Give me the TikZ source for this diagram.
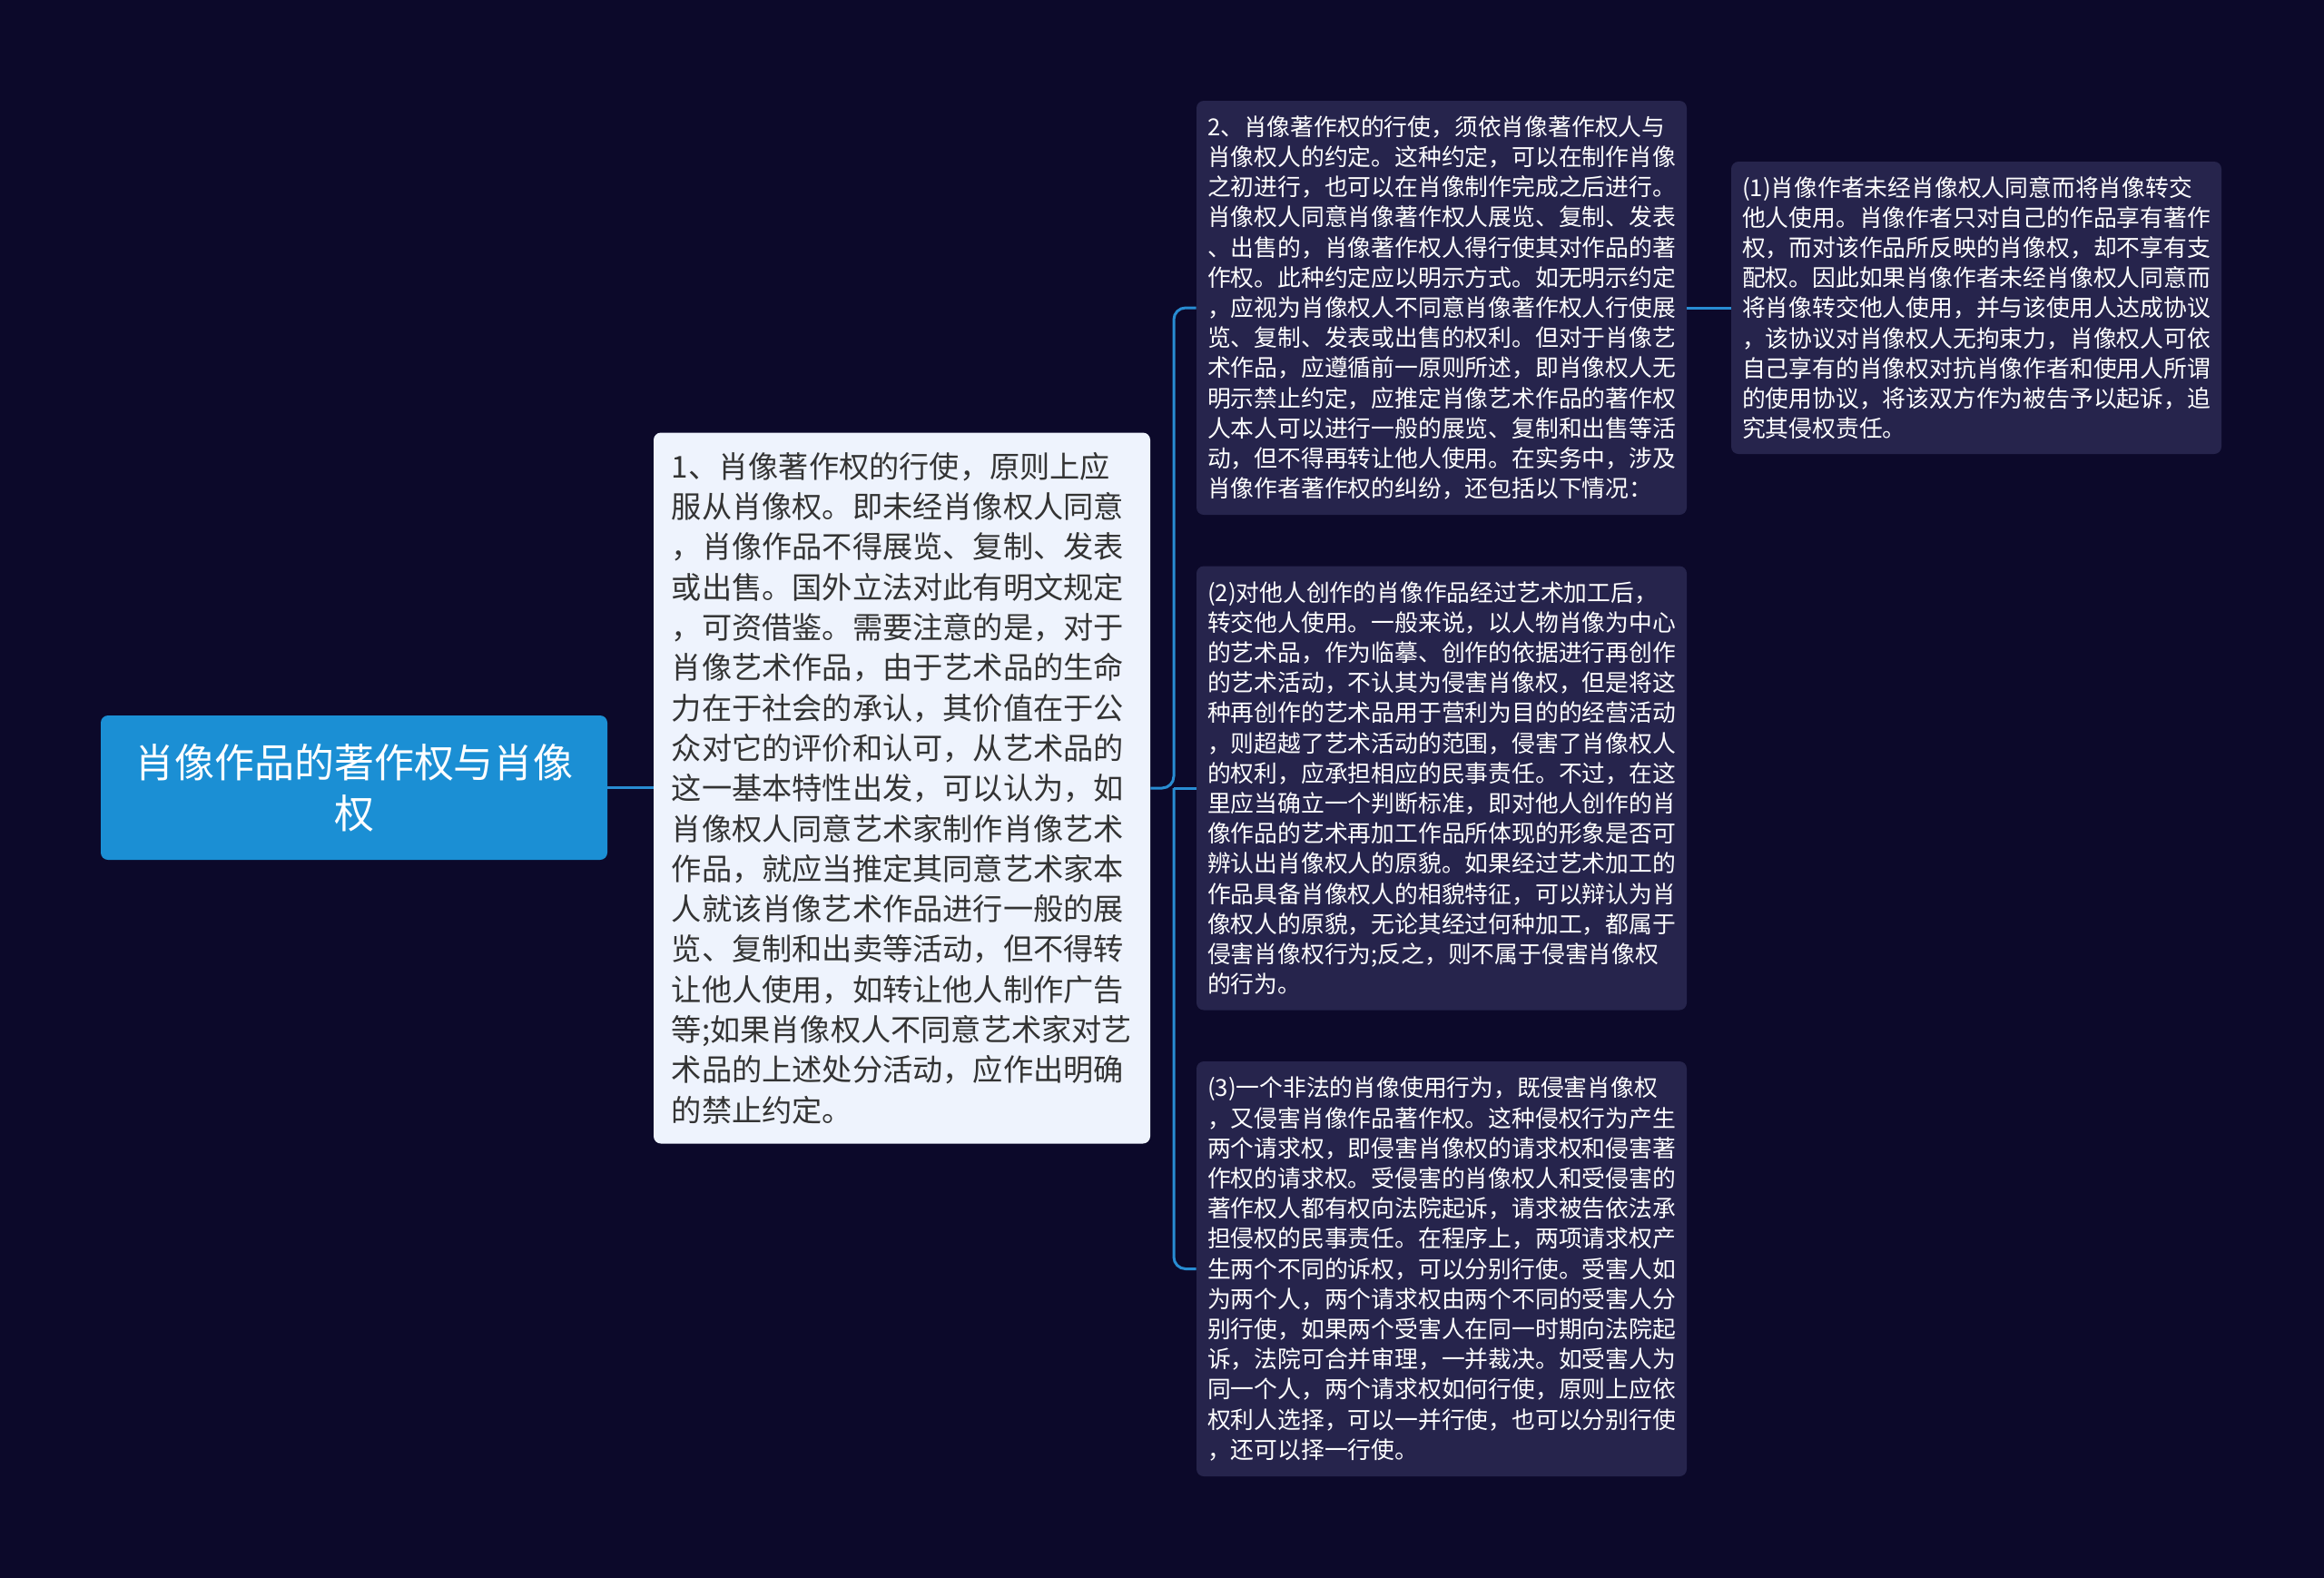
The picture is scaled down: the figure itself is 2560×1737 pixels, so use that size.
\documentclass[tikz,border=0pt]{standalone}
\usepackage{fontspec}
\setmainfont{Noto Sans CJK SC}
\definecolor{bgc}{RGB}{12,9,42}
\definecolor{rootc}{RGB}{27,143,212}
\definecolor{lightc}{RGB}{238,243,253}
\definecolor{darkc}{RGB}{38,36,76}
\definecolor{linec}{RGB}{40,140,210}
\definecolor{txtc}{RGB}{51,51,51}
\tikzset{
  rootbox/.style={fill=rootc, rounded corners=4pt, text=white, align=center, minimum width=279pt, minimum height=79.5pt, inner sep=0pt, font=\fontsize{22}{27.8}\selectfont},
  mainbox/.style={fill=lightc, rounded corners=4pt, text=txtc, align=left, minimum width=273.5pt, minimum height=391.5pt, inner sep=0pt, font=\fontsize{16.6}{22.15}\selectfont},
  subbox/.style={fill=darkc, rounded corners=4pt, text=white, align=left, minimum width=270pt, inner sep=0pt, font=\fontsize{12.9}{16.6}\selectfont},
  conn/.style={draw=linec, line width=1.5pt, rounded corners=6.5pt}
}
\begin{document}
\begin{tikzpicture}[x=0.5pt,y=-0.5pt]
\useasboundingbox (0,0) rectangle (2560,1737);
\fill[bgc] (-20,-20) rectangle (2580,1757);

\node[rootbox] (root) at (390,867.5) {肖像作品的著作权与肖像\\权};

\node[mainbox] (n1) at (993.5,868) {1、肖像著作权的行使，原则上应\\
服从肖像权。即未经肖像权人同意\\
，肖像作品不得展览、复制、发表\\
或出售。国外立法对此有明文规定\\
，可资借鉴。需要注意的是，对于\\
肖像艺术作品，由于艺术品的生命\\
力在于社会的承认，其价值在于公\\
众对它的评价和认可，从艺术品的\\
这一基本特性出发，可以认为，如\\
肖像权人同意艺术家制作肖像艺术\\
作品，就应当推定其同意艺术家本\\
人就该肖像艺术作品进行一般的展\\
览、复制和出卖等活动，但不得转\\
让他人使用，如转让他人制作广告\\
等;如果肖像权人不同意艺术家对艺\\
术品的上述处分活动，应作出明确\\
的禁止约定。};

\node[subbox, minimum height=228pt] (n2) at (1588,339) {2、肖像著作权的行使，须依肖像著作权人与\\
肖像权人的约定。这种约定，可以在制作肖像\\
之初进行，也可以在肖像制作完成之后进行。\\
肖像权人同意肖像著作权人展览、复制、发表\\
、出售的，肖像著作权人得行使其对作品的著\\
作权。此种约定应以明示方式。如无明示约定\\
，应视为肖像权人不同意肖像著作权人行使展\\
览、复制、发表或出售的权利。但对于肖像艺\\
术作品，应遵循前一原则所述，即肖像权人无\\
明示禁止约定，应推定肖像艺术作品的著作权\\
人本人可以进行一般的展览、复制和出售等活\\
动，但不得再转让他人使用。在实务中，涉及\\
肖像作者著作权的纠纷，还包括以下情况：};

\node[subbox, minimum height=161pt] (p1) at (2177,339) {(1)肖像作者未经肖像权人同意而将肖像转交\\
他人使用。肖像作者只对自己的作品享有著作\\
权，而对该作品所反映的肖像权，却不享有支\\
配权。因此如果肖像作者未经肖像权人同意而\\
将肖像转交他人使用，并与该使用人达成协议\\
，该协议对肖像权人无拘束力，肖像权人可依\\
自己享有的肖像权对抗肖像作者和使用人所谓\\
的使用协议，将该双方作为被告予以起诉，追\\
究其侵权责任。};

\node[subbox, minimum height=244.5pt] (p2) at (1588,868) {(2)对他人创作的肖像作品经过艺术加工后，\\
转交他人使用。一般来说，以人物肖像为中心\\
的艺术品，作为临摹、创作的依据进行再创作\\
的艺术活动，不认其为侵害肖像权，但是将这\\
种再创作的艺术品用于营利为目的的经营活动\\
，则超越了艺术活动的范围，侵害了肖像权人\\
的权利，应承担相应的民事责任。不过，在这\\
里应当确立一个判断标准，即对他人创作的肖\\
像作品的艺术再加工作品所体现的形象是否可\\
辨认出肖像权人的原貌。如果经过艺术加工的\\
作品具备肖像权人的相貌特征，可以辩认为肖\\
像权人的原貌，无论其经过何种加工，都属于\\
侵害肖像权行为;反之，则不属于侵害肖像权\\
的行为。};

\node[subbox, minimum height=228.5pt] (p3) at (1588,1397.5) {(3)一个非法的肖像使用行为，既侵害肖像权\\
，又侵害肖像作品著作权。这种侵权行为产生\\
两个请求权，即侵害肖像权的请求权和侵害著\\
作权的请求权。受侵害的肖像权人和受侵害的\\
著作权人都有权向法院起诉，请求被告依法承\\
担侵权的民事责任。在程序上，两项请求权产\\
生两个不同的诉权，可以分别行使。受害人如\\
为两个人，两个请求权由两个不同的受害人分\\
别行使，如果两个受害人在同一时期向法院起\\
诉，法院可合并审理，一并裁决。如受害人为\\
同一个人，两个请求权如何行使，原则上应依\\
权利人选择，可以一并行使，也可以分别行使\\
，还可以择一行使。};

\coordinate (bus) at (1293,868);
\draw[conn] (root.east) -- (root.east -| n1.west);
\draw[conn] (n1.east) -- (bus) |- (n2.west);
\draw[conn] (bus) |- (p3.west);
\draw[conn] (bus) -- (p2.west);
\draw[conn] (n2.east) -- (p1.west);
\end{tikzpicture}
\end{document}
